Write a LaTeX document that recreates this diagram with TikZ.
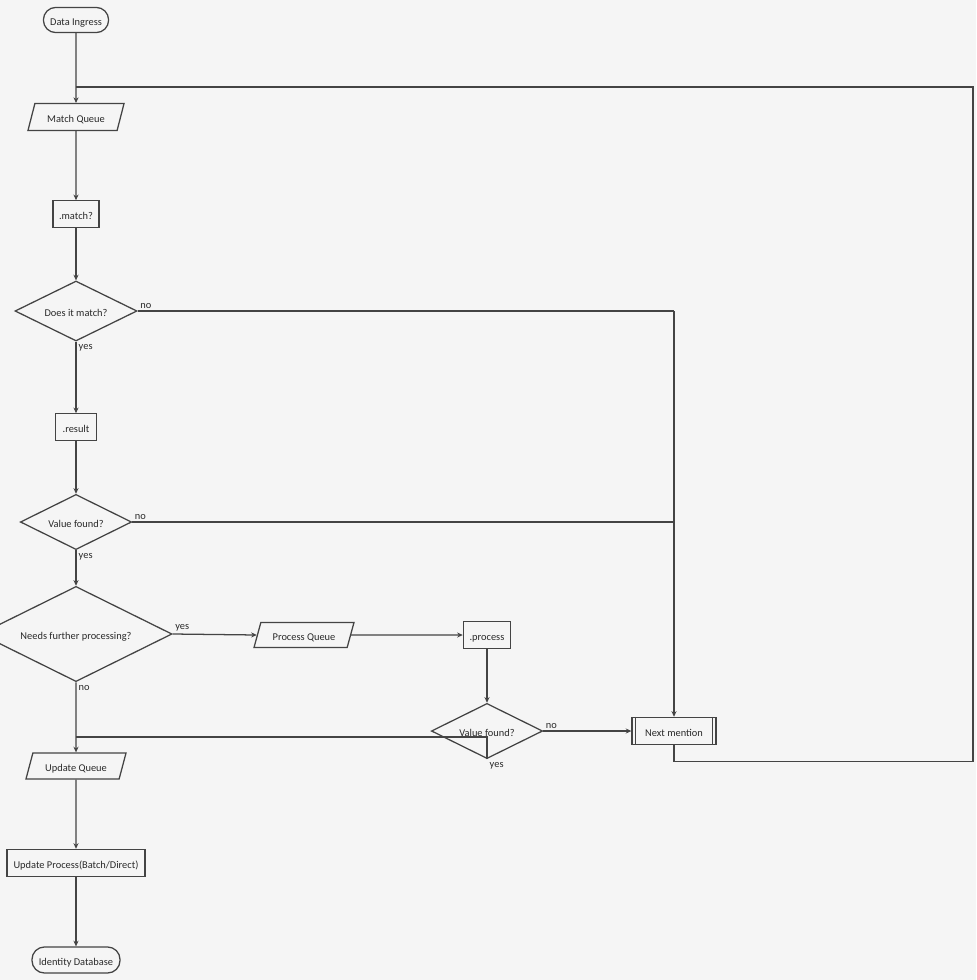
\documentclass[tikz,border=0pt]{standalone}
\usepackage{fontspec}
\setmainfont{Carlito}
\usetikzlibrary{shapes.geometric, positioning, arrows.meta, calc}
\definecolor{bgcol}{HTML}{F5F5F5}
\definecolor{linecol}{HTML}{444444}
\definecolor{txtcol}{HTML}{2A2A2A}
\tikzset{
  shapetext/.style={text height=0.95em, text depth=0.15em},
  terminal/.style={rectangle, rounded corners=0.31cm, draw=linecol, line width=0.9pt, minimum height=0.63cm, text centered, inner sep=0pt, shapetext},
  process/.style={rectangle, draw=linecol, line width=0.9pt, minimum height=0.66cm, text centered, inner sep=0pt, shapetext},
  queue/.style={trapezium, trapezium left angle=66, trapezium right angle=114, trapezium stretches body=true, draw=linecol, line width=0.9pt, minimum height=0.66cm, text centered, inner sep=0pt, shapetext},
  decision/.style={diamond, aspect=2, draw=linecol, line width=0.9pt, text centered, inner sep=0pt, shapetext},
  arrow/.style={line width=0.9pt, draw=linecol, -{Stealth[length=4pt,width=3.6pt]}},
  link/.style={line width=0.9pt, draw=linecol},
  answer/.style={text=txtcol, inner sep=1.5pt}
}

\begin{document}
\begin{tikzpicture}[
        x=0.025cm, y=0.025cm,
        every node/.style={font=\fontsize{7.4}{8}\selectfont, text=txtcol}
        ]
            \fill[bgcol] (0,0) rectangle (976,-980);
            \useasboundingbox (0,0) rectangle (976,-980);

            % --- Main column ---
            \node (ingress) [terminal, minimum width=1.63cm] at (76,-20) {Data Ingress};
            \node (mqueue) [queue, minimum width=2.4cm, minimum height=0.67cm] at (76,-117) {Match Queue};
            \node (match) [process, minimum width=1.15cm] at (76,-214) {.match?};
            \node (doesmatch) [decision, minimum width=3.05cm, minimum height=1.5cm] at (76,-311) {Does it match?};
            \node (result) [process, minimum width=1.03cm] at (76,-427) {.result};
            \node (found1) [decision, minimum width=2.78cm, minimum height=1.38cm] at (76,-522) {Value found?};
            \node (further) [decision, minimum width=4.8cm, minimum height=2.38cm] at (76,-634) {Needs further processing?};
            \node (uqueue) [queue, minimum width=2.5cm, minimum height=0.65cm] at (76,-766) {Update Queue};
            \node (update) [process, minimum width=3.45cm, minimum height=0.68cm] at (76,-863) {Update Process(Batch/Direct)};
            \node (identity) [terminal, minimum width=2.2cm, minimum height=0.65cm] at (76,-960) {Identity Database};

            % --- Processing branch ---
            \node (pqueue) [queue, minimum width=2.5cm, minimum height=0.63cm] at (304,-635) {Process Queue};
            \node (proc) [process, minimum width=1.18cm] at (487,-635) {.process};
            \node (found2) [decision, minimum width=2.78cm, minimum height=1.38cm] at (487,-731) {Value found?};
            \node (next) [process, minimum width=2.1cm, minimum height=0.68cm] at (674,-731) {Next mention};
            \draw[link] ([xshift=0.1cm]next.north west) -- ([xshift=0.1cm]next.south west);
            \draw[link] ([xshift=-0.1cm]next.north east) -- ([xshift=-0.1cm]next.south east);

            % junction points
            \coordinate (loopin) at (76,-87);
            \coordinate (loopright) at (973,-87);
            \coordinate (nojoin) at (674,-311);
            \coordinate (yesjoin) at (76,-737);

            % --- Connections ---
            \draw[arrow] (ingress) -- (mqueue);
            \draw[arrow] (mqueue) -- (match);
            \draw[arrow] (match) -- (doesmatch);
            \draw[link] (doesmatch.east) -- node[answer, pos=0, above right]{no} (nojoin);
            \draw[arrow] (nojoin) -- (next.north);
            \draw[arrow] (doesmatch.south) -- node[answer, pos=0, below right]{yes} (result);
            \draw[arrow] (result) -- (found1);
            \draw[link] (found1.east) -- node[answer, pos=0, above right]{no} (found1.east -| nojoin);
            \draw[arrow] (found1.south) -- node[answer, pos=0, below right]{yes} (further.north);
            \draw[arrow] (further.east) -- node[answer, pos=0, above right]{yes} (pqueue.west);
            \draw[arrow] (pqueue) -- (proc);
            \draw[arrow] (proc) -- (found2);
            \draw[arrow] (found2.east) -- node[answer, pos=0, above right]{no} (next.west);
            \draw[link] (found2.south) node[answer, below right]{yes} |- (yesjoin);
            \draw[arrow] (further.south) -- node[answer, pos=0, below right]{no} (uqueue);
            \draw[arrow] (uqueue) -- (update);
            \draw[arrow] (update) -- (identity);

            % --- Loop back to the match queue ---
            \draw[link] (next.south) -- ++(0,-16) -| (loopright) -- (loopin);
\end{tikzpicture}
\end{document}
